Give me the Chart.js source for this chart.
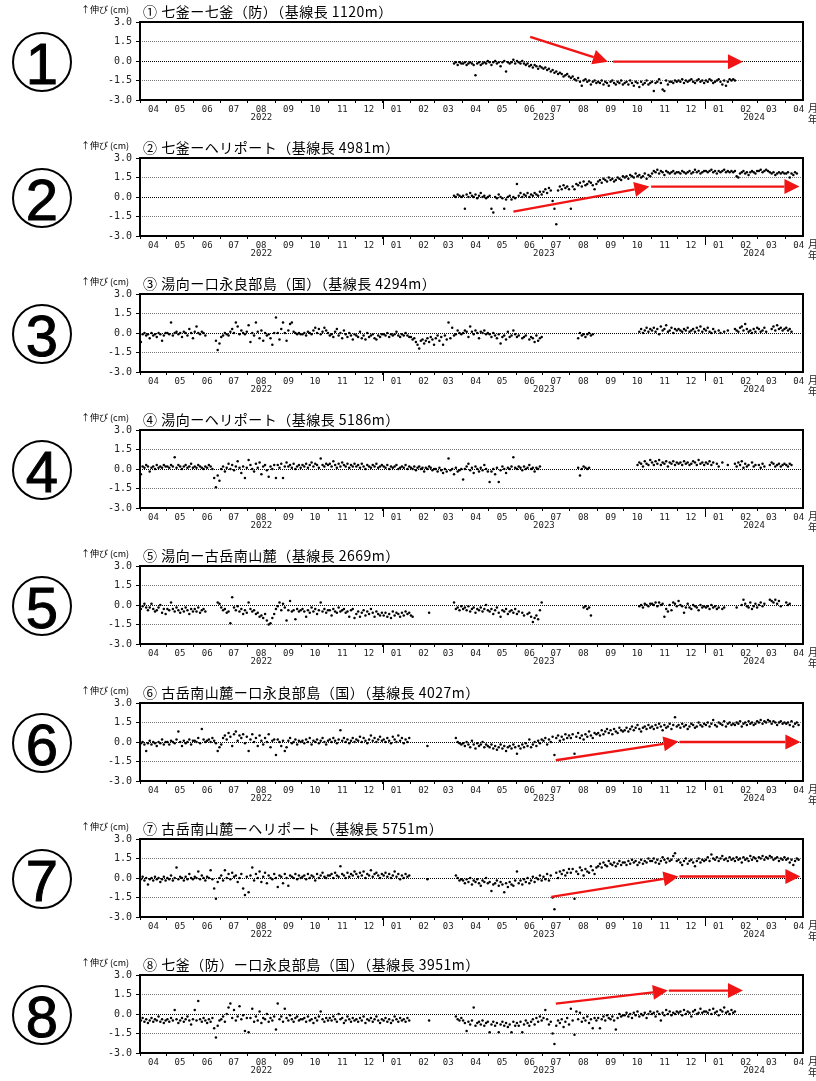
<!DOCTYPE html>
<html lang="ja">
<head>
<meta charset="utf-8">
<title>口永良部島 GNSS連続観測 基線長変化</title>
<script src="https://cdn.jsdelivr.net/npm/chart.js@4.4.1/dist/chart.umd.min.js"></script>
<style>
  html, body { margin: 0; padding: 0; background: #fff; }
  #page { position: relative; width: 816px; height: 1081px; overflow: hidden; }
  .panel { position: absolute; left: 0; width: 816px; height: 136px; }
  .panel canvas { position: absolute; left: 0; top: 0; }
  .mark {
    position: absolute; left: 12px; top: 32px; width: 56px; height: 56px;
    border: 2px solid #000; border-radius: 50%; text-align: center; color: #000;
    font: 58px/60px 'Liberation Sans', Arial, sans-serif; -webkit-text-stroke: 1px #000;
    z-index: 2;
  }
</style>
</head>
<body>
<div id="page"></div>
<script>
const _ = null;

// Axis range and tick labels
const axisStart = '2022-04-01';
const axisEnd = '2024-04-21';
const monthLabels = ['04','05','06','07','08','09','10','11','12','01','02','03',
                     '04','05','06','07','08','09','10','11','12','01','02','03','04'];
const yearNames = ['2022', '2023', '2024'];

// Panel headings
const panelMarks = ['1','2','3','4','5','6','7','8'];
const titles = [
  '① 七釜ー七釜（防）（基線長 1120m）',
  '② 七釜ーヘリポート（基線長 4981m）',
  '③ 湯向ー口永良部島（国）（基線長 4294m）',
  '④ 湯向ーヘリポート（基線長 5186m）',
  '⑤ 湯向ー古岳南山麓（基線長 2669m）',
  '⑥ 古岳南山麓ー口永良部島（国）（基線長 4027m）',
  '⑦ 古岳南山麓ーヘリポート（基線長 5751m）',
  '⑧ 七釜（防）ー口永良部島（国）（基線長 3951m）'
];

// Baseline changes (cm), one row per month from 2022-04 to 2024-04,
// readings roughly every second day; _ = no observation
const nanagamaNanagamaBo = [
  [],[],[],[],[],[],[],[],[],[],[],
  [_,_,_,_,_,_,_,_,_,_,-0.2,-0.1,-0.3,-0.1,-0.2],
  [-0.2,-0.1,-0.3,-0.2,-0.1,-0.2,-0.3,-1.1,-0.2,-0.1,-0.3,-0.2,-0.1,-0.2,0.0],
  [-0.1,-0.3,-0.1,0.0,-0.2,-0.1,-0.4,-0.1,0.0,-0.8,-0.1,-0.2,-0.1,0.1,-0.2],
  [0.0,-0.1,-0.2,0.0,-0.2,-0.3,-0.2,-0.4,-0.3,-0.5,-0.3,-0.4,-0.6,-0.4,-0.5],
  [-0.6,-0.5,-0.7,-0.6,-0.8,-0.7,-0.9,-0.8,-1.0,-0.9,-1.0,-1.2,-1.1,-1.0,-1.2],
  [-1.3,-1.2,-1.4,-1.5,-1.3,-1.6,-1.9,-1.5,-1.4,-1.6,-1.5,-1.8,-1.6,-1.5,-1.7],
  [-1.6,-1.7,-1.5,-1.8,-1.6,-1.7,-1.9,-1.6,-1.5,-1.7,-1.8,-1.6,-1.7,-1.5,-1.8],
  [-1.7,-1.6,-1.8,-1.5,-1.7,-1.9,-1.6,-1.7,-2.0,-1.6,-1.8,-1.7,-1.5,-1.8,-1.7],
  [-1.6,-2.3,-1.7,-1.6,-1.4,-1.7,-2.2,-2.3,-1.5,-1.8,-1.6,-1.6,-1.7,-1.5,-1.6],
  [-1.5,-1.6,-1.4,-1.7,-1.5,-1.6,-1.5,-1.4,-1.6,-1.7,-1.5,-1.4,-1.6,-1.5,-1.7],
  [-1.5,-1.6,-1.4,-1.5,-1.7,-1.6,-1.5,-1.4,-1.6,-1.8,-1.5,-1.9,-1.6,-1.4,-1.5],
  [-1.4,-1.5],
  [],[]
];

const nanagamaHeliport = [
  [],[],[],[],[],[],[],[],[],[],[],
  [_,_,_,_,_,_,_,_,_,_,0.1,0.0,0.2,0.1,0.0],
  [0.1,-0.9,0.2,0.0,0.3,0.1,0.0,0.2,-0.1,0.1,0.3,0.0,0.1,-0.1,0.0],
  [0.1,-0.9,-1.2,0.0,-0.1,0.2,0.0,-0.1,-0.9,-0.2,0.0,0.1,-0.2,0.0,-0.1],
  [1.0,0.1,0.3,0.0,0.2,0.1,0.3,0.0,0.2,0.1,0.3,0.2,0.1,0.4,0.2],
  [0.4,0.6,0.3,0.7,0.5,-0.3,-0.9,-2.1,0.5,0.8,0.6,0.9,0.7,0.8,0.6],
  [-0.9,0.8,0.6,1.0,0.9,1.1,0.8,1.2,0.9,1.0,1.2,1.1,0.9,0.6,1.0],
  [1.2,1.3,1.1,1.4,1.3,1.2,1.5,1.3,1.4,1.2,1.3,1.5,1.4,1.3,1.6],
  [1.5,1.6,1.4,1.7,1.6,1.5,1.8,1.6,1.7,1.5,1.6,1.8,1.4,1.7,1.6],
  [1.8,2.0,1.9,2.1,1.8,2.0,1.9,1.7,2.0,1.9,1.8,1.9,2.0,1.8,1.9],
  [1.9,1.8,2.0,1.9,1.8,1.9,2.0,1.8,1.9,2.1,1.9,2.0,1.8,1.9,2.0],
  [2.0,1.9,2.0,2.1,1.9,2.0,1.8,2.0,1.9,2.0,2.1,1.9,2.0,1.9,2.0],
  [1.9,2.0,1.6,1.5,1.8,1.9,2.0,1.8,1.9,1.7,1.9,2.0,1.9,1.8,2.0],
  [2.0,2.1,1.9,2.0,2.1,2.0,1.9,1.8,1.9,1.7,1.8,1.9,1.8,1.9,1.8],
  [1.8,1.9,1.5,1.8,1.7,1.9,1.8]
];

const yumukiKuchinoerabu = [
  [-0.7,-0.1,0.0,-0.2,-0.1,-0.4,0.0,-0.2,-0.1,-0.3,0.0,-0.1,-0.6,-0.2,0.0],
  [0.0,-0.1,0.8,-0.2,0.0,0.1,-0.1,0.0,-0.3,0.1,0.0,-0.2,0.3,0.0,-0.4],
  [0.1,0.5,0.0,-0.1,0.1,0.0,-0.2,_,_,_,_,_,-0.6,-1.3,-0.8],
  [-0.3,-0.2,0.0,-0.1,-0.2,0.1,0.3,0.0,0.8,0.5,-0.1,0.2,0.0,-0.1,0.1],
  [0.6,-0.7,0.0,-0.2,0.8,0.1,-0.4,0.2,-0.6,0.0,-0.2,-0.1,-0.4,-0.9,0.0],
  [1.2,0.0,-0.5,0.3,0.8,0.0,-0.6,0.2,0.7,0.8,0.1,0.0,-0.1,0.0,-0.1],
  [-0.1,0.0,-0.2,0.1,0.0,-0.1,0.2,0.4,0.0,0.3,-0.1,0.1,0.4,0.2,0.0],
  [-0.2,-0.1,-0.3,0.1,0.3,-0.2,0.0,-0.4,0.2,-0.1,-0.3,0.0,-0.2,-0.5,-0.1],
  [-0.2,-0.3,0.1,-0.4,-0.2,-0.5,0.0,-0.3,-0.2,-0.1,-0.4,-0.5,-0.2,-0.3,-0.1],
  [-0.1,-0.2,0.0,-0.3,-0.1,-0.2,-0.1,0.1,-0.2,-0.3,-0.1,-0.2,0.0,-0.2,-0.3],
  [-0.3,-0.5,-0.4,-0.7,-0.9,-1.2,-0.6,-0.5,-0.8,-0.6,-0.4,-0.7,-0.3,-0.5,-0.9],
  [-0.4,-0.2,-0.6,-0.3,-0.9,-0.2,-0.5,0.8,-0.4,0.4,-0.2,-0.1,0.2,0.0,-0.1],
  [0.0,0.2,0.1,-0.3,0.5,0.1,-0.1,0.2,0.0,-0.4,0.1,0.0,0.2,-0.1,0.0],
  [-0.1,-0.3,0.0,-0.2,-0.4,-0.1,-0.8,-0.3,-0.2,-0.5,0.1,-0.3,-0.2,0.2,-0.1],
  [-0.3,-0.2,_,-0.4,-0.3,-0.2,_,-0.5,-0.3,-0.4,-0.7,-0.2,-0.6,-0.4,-0.3],
  [],
  [_,_,_,_,-0.4,0.0,-0.2,-0.1,-0.3,-0.1,0.0,-0.2,-0.1],
  [],
  [_,_,_,_,_,_,_,_,0.1,0.3,0.0,0.2,0.4,0.1,0.3],
  [0.2,0.4,0.1,0.3,-0.1,0.5,0.2,0.3,0.6,0.1,0.2,0.4,0.0,0.3,0.2],
  [0.3,0.2,0.1,0.3,0.2,0.4,0.1,0.2,0.3,0.1,0.4,0.2,0.5,0.1,0.3],
  [0.2,0.4,0.1,0.0,0.3,0.1,_,0.2,0.0,_,0.1,_,0.2,_,_],
  [_,0.3,0.2,0.1,0.4,0.5,0.2,0.7,0.3,0.1,0.2,0.0,0.3,0.1,0.4],
  [0.3,0.1,0.2,0.4,0.1,_,_,0.3,0.5,0.2,0.6,0.3,0.4,0.2,0.3],
  [0.4,0.2,0.3,0.1]
];

const yumukiHeliport = [
  [-0.4,0.2,0.1,0.3,0.2,-0.2,0.1,0.2,0.0,0.3,0.1,0.2,0.1,0.3,0.2],
  [0.2,0.1,0.3,0.2,0.9,0.1,0.3,0.2,0.0,0.2,0.3,0.1,0.2,0.4,0.1],
  [0.2,0.1,0.3,0.2,0.1,0.0,0.2,0.1,0.3,0.2,0.0,-0.7,-1.4,-0.5,-0.9],
  [0.0,0.2,-0.2,0.1,0.4,0.0,0.3,-0.1,0.2,0.6,0.1,-0.3,0.2,-0.7,0.1],
  [0.7,0.3,0.0,-0.2,0.4,0.1,0.5,-0.4,0.2,0.3,-0.1,-0.6,0.2,0.0,0.3],
  [-0.7,0.3,0.1,0.4,-0.7,0.2,0.5,0.2,0.3,0.1,0.4,0.0,0.2,0.3,0.1],
  [0.3,0.2,0.4,0.1,0.3,0.5,0.2,0.4,0.3,0.1,0.8,0.3,0.2,0.4,0.3],
  [0.4,0.2,0.6,0.3,0.1,0.4,0.2,0.5,0.3,0.2,0.4,0.1,0.3,0.2,0.4],
  [0.2,0.3,0.1,0.4,0.2,0.0,0.3,0.2,0.1,0.3,0.2,0.4,0.1,0.2,0.3],
  [0.2,0.1,0.3,0.0,0.2,0.1,0.2,0.3,0.0,0.1,0.2,0.1,0.3,0.0,0.2],
  [0.1,0.0,0.2,-0.1,0.1,0.2,0.0,0.1,-0.2,0.1,0.0,0.2,0.1,-0.1,0.0],
  [0.0,-0.2,0.1,-0.1,-0.3,0.0,-0.2,0.8,-0.1,0.0,-0.4,0.1,-0.2,-0.1,0.0],
  [-0.8,0.0,0.2,0.4,-0.1,0.1,-0.3,0.2,0.0,-0.2,0.1,-0.1,0.3,0.0,-0.2],
  [-1.0,-0.2,0.0,-0.4,0.1,-1.0,-0.1,0.2,0.0,-0.3,0.1,0.0,0.2,0.9,0.1],
  [0.0,0.2,0.1,-0.1,0.2,0.0,0.1,0.3,0.0,0.1,-0.2,0.1,0.0,0.2,_],
  [],
  [_,_,_,_,0.1,-0.5,0.0,0.2,0.1,0.0,0.1],
  [],
  [_,_,_,_,_,_,_,0.3,0.5,0.4,0.2,0.6,0.4,0.3,0.7],
  [0.5,0.3,0.6,0.4,0.7,0.3,0.5,0.4,0.6,0.2,0.5,0.4,0.6,0.3,0.5],
  [0.4,0.5,0.3,0.6,0.4,0.5,0.3,0.4,0.6,0.5,0.3,0.7,0.4,0.5,0.3],
  [0.5,0.4,0.6,0.3,0.5,_,0.4,0.2,_,0.5,_,_,0.3,_,_],
  [_,0.4,0.2,0.5,0.3,0.6,0.1,0.4,0.2,0.3,_,0.5,0.2,0.3,_],
  [0.3,0.1,0.4,0.2,_,_,0.3,0.5,0.4,0.2,0.3,0.4,0.2,0.3,0.4],
  [0.3,0.2,0.4,0.3]
];

const yumukiFurudake = [
  [-0.3,-0.1,0.1,-0.2,-0.4,-0.2,0.1,-0.3,-0.5,-0.4,-0.2,0.0,-0.6,-0.3,-0.7],
  [-0.3,-0.4,0.2,-0.3,-0.5,-0.2,-0.4,-0.6,-0.3,-0.5,-0.2,-0.4,-0.7,-0.3,-0.5],
  [-0.3,-0.5,-0.2,-0.6,-0.4,-0.3,-0.5,_,_,_,_,_,_,0.2,0.1],
  [-0.2,-0.4,-0.3,-0.6,-0.5,-1.4,0.6,-0.2,-0.4,-0.1,-0.5,-0.3,-0.7,-0.4,-0.6],
  [0.2,-0.3,-0.5,-0.4,-0.7,-0.6,-0.9,-0.8,-1.0,-0.7,-1.2,-1.5,-1.4,-1.0,-0.7],
  [-0.3,-0.1,0.2,-0.4,0.1,-0.2,-1.2,-0.4,0.3,-0.5,-0.4,-1.1,-0.3,-0.5,-0.4],
  [-0.3,-0.5,-0.9,-0.4,-0.6,-0.2,-0.5,-0.3,-0.7,-0.4,0.2,-0.5,-0.3,-0.6,-0.4],
  [-0.4,-0.8,-0.3,-0.5,-0.6,-0.2,-0.5,-0.4,-0.3,-0.6,-0.5,-0.9,-0.4,-0.3,-1.0],
  [-0.7,-0.5,-0.9,-0.6,-0.4,-0.8,-0.5,-0.7,-0.3,-0.6,-0.9,-0.5,-0.7,-0.8,-0.6],
  [-0.8,-0.6,-0.9,-0.7,-1.0,-0.5,-0.8,-0.6,-0.7,-0.9,-0.6,-0.8,-0.5,-0.7,-0.6],
  [-0.8,-0.9,_,_,_,_,_,_,_,_,_,-0.6],
  [_,_,_,_,_,_,_,_,_,_,0.2,-0.3,-0.2,-0.4,-0.1],
  [-0.3,-0.2,-0.4,-0.1,-0.5,-0.3,-0.2,-0.6,-0.3,-0.4,-0.2,-0.5,-0.3,0.0,-0.4],
  [-0.5,-0.3,-0.7,-0.4,-0.2,-0.6,-0.9,-0.4,-0.5,-0.3,-0.7,-0.5,-0.4,-0.6,-0.3],
  [-0.7,-0.5,_,-0.6,-0.8,_,-0.7,-0.6,-0.9,-1.3,-1.0,-0.8,-1.1,-0.4,0.2],
  [],
  [_,_,_,_,_,_,_,-0.2,-0.1,-0.3,-0.2,-0.8],
  [],
  [_,_,_,_,_,_,_,_,-0.1,0.0,-0.2,0.1,0.0,-0.1,0.1],
  [0.1,0.0,0.2,-0.1,0.2,0.0,0.1,-0.9,-0.3,-0.5,0.0,-0.4,0.2,0.1,-0.1],
  [0.3,0.0,-0.1,-0.6,-0.2,0.1,-0.2,-0.3,0.0,-0.1,-0.2,-0.4,0.0,-0.2,-0.1],
  [-0.2,-0.1,-0.3,0.0,-0.2,-0.1,-0.3,-0.2,_,-0.3,-0.2],
  [_,_,-0.2,_,_,0.0,0.4,0.1,-0.1,-0.2,0.2,-0.3,-0.1,0.1,-0.2],
  [0.0,0.2,-0.1,0.1,_,_,0.4,0.3,0.2,0.4,0.1,0.3,-0.1],
  [0.2,0.0,0.1]
];

const furudakeKuchinoerabu = [
  [-0.1,0.0,-0.2,-0.7,-0.1,0.1,-0.2,0.0,-0.1,-0.3,0.0,-0.1,0.2,-0.2,0.0],
  [0.0,-0.2,0.1,0.0,-0.1,0.2,0.8,0.0,-0.3,0.1,-0.1,0.0,0.2,-0.2,0.1],
  [0.1,0.0,0.3,-0.1,1.0,0.2,0.0,0.1,0.2,0.0,0.3,0.1,-0.1,-0.7,-0.4],
  [-0.2,0.3,0.5,0.2,0.7,0.4,-0.3,0.6,0.8,0.1,0.5,0.3,0.6,-0.1,0.4],
  [-0.7,0.2,0.6,0.0,0.3,-0.3,0.5,0.1,-0.2,0.3,0.0,0.6,-0.4,0.1,0.2],
  [-1.0,0.2,0.0,-0.3,0.1,-0.7,-0.4,0.1,0.3,-0.1,0.0,0.2,-0.2,0.1,0.0],
  [0.1,-0.1,0.2,0.0,0.3,-0.2,0.1,0.0,0.2,-0.1,0.1,0.3,0.0,-0.2,0.1],
  [0.2,0.0,0.3,0.1,-0.1,0.2,0.9,0.1,0.3,0.0,0.2,-0.1,0.1,0.3,0.0],
  [0.2,0.1,0.4,0.0,0.3,0.1,-0.1,0.2,0.5,0.1,0.3,0.0,0.2,0.4,0.1],
  [0.2,0.0,0.3,0.1,-0.1,0.4,0.2,0.0,0.5,0.1,0.3,-0.1,0.2,0.0,0.3],
  [_,_,_,_,_,_,_,_,_,_,-0.3],
  [_,_,_,_,_,_,_,_,_,_,_,0.3,0.0,-0.1,-0.2],
  [-0.1,-0.3,0.0,-0.2,-0.4,0.1,-0.2,-0.5,-0.1,-0.3,-0.2,0.0,-0.4,-0.2,-0.3],
  [-0.4,-0.2,-0.5,-0.3,-0.6,-0.4,-0.2,-0.5,-0.3,-0.7,-0.4,-0.3,-0.5,-0.2,-0.4],
  [-0.9,-0.3,-0.5,-0.2,-0.4,-0.1,-0.3,0.2,-0.4,-0.2,0.0,-0.3,0.1,-0.1,0.2],
  [0.1,0.3,-0.2,0.2,0.0,0.4,-1.0,0.3,0.5,0.1,0.4,0.2,0.6,0.3,0.5],
  [0.3,0.6,-0.9,0.4,0.7,0.3,0.5,0.2,0.6,0.4,0.8,0.5,0.3,0.7,0.6],
  [0.7,0.5,0.9,0.6,0.8,1.0,0.7,0.9,0.6,1.0,0.8,0.7,1.1,0.9,0.8],
  [0.9,1.1,0.8,1.0,1.2,0.9,1.1,1.3,1.0,0.8,1.1,1.2,1.0,1.3,1.1],
  [1.2,1.0,1.3,1.1,1.4,1.2,0.9,1.3,1.1,1.2,1.4,1.0,1.3,1.9,1.2],
  [1.3,1.1,1.4,1.2,1.3,1.0,1.2,1.4,1.3,1.1,1.2,1.5,1.3,1.2,1.4],
  [1.3,1.5,1.2,1.4,1.7,1.3,1.2,1.5,1.4,1.3,1.6,1.2,1.4,1.5,1.3],
  [1.4,1.3,1.5,1.4,1.6,1.2,1.4,1.5,1.3,1.6,1.4,1.5,1.3,1.4,1.6],
  [1.5,1.7,1.4,1.6,1.5,1.7,1.6,1.4,1.6,1.5,1.3,1.5,1.6,1.4,1.5],
  [1.4,1.5,1.3,1.6,1.2,1.4,1.5,1.3]
];

const furudakeHeliport = [
  [-0.1,0.1,-0.2,0.0,-0.5,-0.1,0.0,-0.2,0.1,-0.1,0.0,-0.3,-0.1,0.1,-0.2],
  [0.0,-0.1,0.2,-0.2,0.0,0.8,-0.1,0.1,0.0,-0.2,0.1,-0.1,0.3,0.0,-0.1],
  [0.1,0.0,0.5,-0.1,0.2,0.0,-0.2,0.1,0.0,0.6,-0.1,-0.8,-1.6,-0.3,0.0],
  [0.2,-0.2,0.6,0.0,0.3,-0.1,0.4,0.1,0.2,-0.3,0.0,0.3,-0.8,-1.3,0.1],
  [-1.1,0.2,0.8,-0.2,0.3,0.0,0.5,-0.3,0.1,0.4,-0.4,0.2,0.0,-0.1,0.3],
  [0.0,-0.7,0.2,0.1,-0.4,0.3,0.0,-0.6,0.2,0.1,0.0,0.3,-0.1,0.2,0.0],
  [0.1,0.2,-0.1,0.3,0.0,0.2,0.1,-0.2,0.3,0.0,0.2,0.4,0.1,0.0,0.2],
  [0.2,0.3,0.0,0.4,0.2,0.1,0.9,0.3,0.2,0.0,0.4,0.1,0.3,0.2,0.5],
  [0.3,0.1,0.4,0.2,0.5,0.0,0.3,0.2,0.6,0.1,0.3,0.4,0.2,0.0,0.3],
  [0.2,0.4,0.1,0.3,0.0,0.2,0.5,0.1,0.3,-0.1,0.2,0.0,0.3,0.1,0.2],
  [_,_,_,_,_,_,_,_,_,_,-0.1],
  [_,_,_,_,_,_,_,_,_,_,_,0.2,0.0,-0.2,-0.1],
  [-0.2,-0.4,-0.1,-0.3,0.0,-0.5,-0.2,-0.3,-0.1,-0.4,-0.6,-0.2,-0.3,0.0,-0.4],
  [-0.3,-1.0,-0.5,-0.4,-0.2,-0.6,-0.3,-0.5,-1.1,-0.4,-0.7,-0.3,-0.5,-0.6,-0.2],
  [0.5,-0.4,-0.2,-0.5,-0.1,-0.3,0.0,-0.4,-0.2,0.1,-0.3,0.0,-0.1,0.2,-0.2],
  [0.1,-0.1,0.3,-0.2,0.2,-1.5,-2.4,0.4,0.0,0.5,0.3,0.6,0.2,0.4,0.7],
  [0.4,0.7,-1.6,0.5,0.3,0.8,0.6,0.2,0.7,0.5,0.4,0.9,0.6,0.3,0.8],
  [0.9,1.1,0.8,1.2,1.0,0.9,1.3,1.1,1.0,1.2,0.9,1.1,1.3,1.0,1.2],
  [1.2,1.0,1.3,1.1,1.4,1.2,1.3,1.0,1.2,1.4,1.1,1.3,1.2,1.5,1.3],
  [1.3,1.5,1.2,1.4,1.1,1.3,1.6,1.4,1.2,1.5,1.3,1.4,1.7,1.9,1.3],
  [1.4,1.2,1.0,1.3,1.5,1.1,1.3,1.4,1.2,0.9,1.3,1.5,1.2,1.4,1.3],
  [1.4,1.6,1.3,1.8,1.5,1.4,1.6,1.3,1.5,1.7,1.4,1.5,1.3,1.6,1.4],
  [1.5,1.3,1.6,1.4,1.5,1.2,1.6,1.4,1.5,1.3,1.7,1.4,1.6,1.5,1.3],
  [1.6,1.5,1.7,1.4,1.6,1.5,1.7,1.6,1.4,1.5,1.6,1.3,1.5,1.4,1.6],
  [1.4,1.5,1.2,1.4,1.0,1.3,1.5,1.4]
];

const nanagamaBoKuchinoerabu = [
  [-0.5,-0.3,-0.6,-0.4,-0.7,-0.5,-0.3,-0.6,-0.4,-0.5,-0.2,-0.6,-0.4,-0.7,-0.5],
  [-0.4,-0.6,-0.3,-0.5,0.3,-0.4,-0.7,-0.5,-0.3,-0.6,-0.4,-0.2,-0.5,-0.8,-0.4],
  [0.3,-0.5,1.0,-0.4,-0.6,-0.3,-0.5,-0.7,-0.4,-0.6,-0.3,-1.1,-1.8,-0.9,-0.5],
  [-0.4,-0.2,-0.6,0.0,0.5,0.8,-0.3,0.3,-0.5,-0.2,0.6,-0.4,-0.1,-1.3,-0.3],
  [-1.4,-0.3,0.4,-0.6,-0.2,-0.5,0.2,-0.7,-0.3,-0.4,0.0,-0.6,-0.3,-0.5,-0.2],
  [-1.2,0.8,-0.4,-0.2,-0.6,0.4,-0.3,-0.5,-0.1,-0.4,-0.6,-0.3,-0.2,-0.5,-0.4],
  [-0.4,-0.3,-0.6,-0.2,-0.5,-0.4,-0.7,-0.3,-0.5,-0.2,0.2,-0.4,-0.6,-0.3,-0.5],
  [-0.3,-0.5,-0.2,-0.4,-0.6,0.0,-0.4,-0.3,-0.7,-0.5,-0.2,-0.4,-0.6,-0.3,-0.5],
  [-0.4,-0.6,-0.3,-0.5,-0.2,-0.7,-0.4,-0.5,-0.3,-0.6,-0.4,-0.2,-0.5,-0.7,-0.4],
  [-0.5,-0.3,-0.6,-0.4,-0.7,-0.5,-0.2,-0.4,-0.6,-0.3,-0.5,-0.4,-0.6,-0.3,-0.5],
  [_,_,_,_,_,_,_,_,_,_,_,-0.5],
  [_,_,_,_,_,_,_,_,_,_,_,-0.2,-0.4,-0.5,-0.3],
  [-0.5,-0.7,-1.3,-0.6,-0.8,-0.5,0.5,-0.9,-0.7,-0.6,-0.8,-0.5,-0.9,-0.7,-0.6],
  [-1.4,-0.8,-0.6,-0.9,-0.7,-1.4,-0.8,-0.6,-0.9,-0.7,-1.0,-0.8,-1.4,-0.6,-0.9],
  [-0.7,-0.9,-0.6,-1.4,-0.8,-0.5,-0.7,-0.9,-0.6,-0.4,-0.8,-0.3,-0.6,-0.2,-0.5],
  [-0.3,0.3,-0.4,-0.8,-0.6,-1.5,-2.3,-0.9,-0.5,-0.7,-0.4,-1.0,-0.6,-0.3,-0.8],
  [0.4,-0.5,-1.6,0.2,-0.4,0.1,-0.6,-0.3,-0.5,-0.2,-0.7,-0.4,-1.1,-0.3,-0.5],
  [-0.3,-1.1,-0.4,-0.2,-0.5,-0.1,-0.3,-0.4,-0.2,-0.5,-1.2,-0.3,0.0,-0.2,-0.1],
  [-0.1,0.1,-0.2,0.0,-0.3,0.1,-0.1,0.2,-0.2,0.0,-0.1,0.1,-0.3,0.0,0.2],
  [0.0,0.1,-0.2,0.2,0.0,-0.5,0.1,-0.1,0.3,0.0,0.2,-0.1,0.1,0.0,0.2],
  [0.1,0.2,-0.1,0.3,0.0,0.2,0.1,-0.2,0.2,0.3,0.0,0.1,0.4,0.1,0.2],
  [0.2,0.1,0.3,0.0,0.4,0.1,0.2,-0.1,0.3,0.2,0.5,0.1,0.2,0.0,0.3],
  [0.1,0.2],
  [],[]
];

const series = [nanagamaNanagamaBo, nanagamaHeliport, yumukiKuchinoerabu, yumukiHeliport,
                yumukiFurudake, furudakeKuchinoerabu, furudakeHeliport, nanagamaBoKuchinoerabu];

// Trend arrows: [from date, from cm, to date, to cm]
const arrows = [
  [['2023-06-17', 1.85, '2023-09-13', -0.05], ['2023-09-19', -0.05, '2024-02-13', -0.05]],
  [['2023-05-29', -1.13, '2023-10-30', 0.8], ['2023-11-01', 0.8, '2024-04-17', 0.8]],
  [], [], [],
  [['2023-07-16', -1.4, '2023-12-02', 0.03], ['2023-12-03', 0.0, '2024-04-18', 0.0]],
  [['2023-07-11', -1.45, '2023-12-02', 0.12], ['2023-12-03', 0.12, '2024-04-18', 0.12]],
  [['2023-07-16', 0.8, '2023-11-20', 1.8], ['2023-11-21', 1.8, '2024-02-13', 1.8]]
];

// ---------------------------------------------------------------------------
const DAY = 864e5;
const t0 = Date.parse(axisStart + 'T00:00:00Z');
const dayOf = s => (Date.parse(s + 'T00:00:00Z') - t0) / DAY;
const SLOTS = 15;
const monthStart = [], monthLen = [];
for (let m = 0; m < monthLabels.length; m++) {
  const a = Date.UTC(2022, 3 + m, 1), b = Date.UTC(2022, 4 + m, 1);
  monthStart.push((a - t0) / DAY);
  monthLen.push((b - a) / DAY);
}

function toPoints(rows) {
  const pts = [];
  rows.forEach((row, m) => row.forEach((v, j) => {
    if (v !== null) pts.push({ x: monthStart[m] + (j + 0.5) * monthLen[m] / SLOTS, y: v });
  }));
  return pts;
}

const ARROW_RED = '#f01414';
const MONO = "'DejaVu Sans Mono', 'Liberation Mono', monospace";
const CJK = "'Noto Sans CJK JP', 'Noto Sans', sans-serif";

const panelDecor = {
  id: 'panelDecor',
  afterDatasetsDraw(chart, args, opts) {
    const { ctx, scales: { x, y } } = chart;
    ctx.save();
    ctx.strokeStyle = ARROW_RED;
    ctx.fillStyle = ARROW_RED;
    ctx.lineWidth = 2.4;
    for (const [d0, v0, d1, v1] of opts.arrows) {
      const x0 = x.getPixelForValue(dayOf(d0)), y0 = y.getPixelForValue(v0);
      const x1 = x.getPixelForValue(dayOf(d1)), y1 = y.getPixelForValue(v1);
      const ang = Math.atan2(y1 - y0, x1 - x0);
      const L = 15, W = 7.5;
      const bx = x1 - L * Math.cos(ang), by = y1 - L * Math.sin(ang);
      ctx.beginPath(); ctx.moveTo(x0, y0); ctx.lineTo(bx, by); ctx.stroke();
      ctx.beginPath();
      ctx.moveTo(x1, y1);
      ctx.lineTo(bx - W * Math.sin(ang), by + W * Math.cos(ang));
      ctx.lineTo(bx + W * Math.sin(ang), by - W * Math.cos(ang));
      ctx.closePath(); ctx.fill();
    }
    ctx.restore();
  },
  afterDraw(chart, args, opts) {
    const { ctx, chartArea: a, scales: { x } } = chart;
    ctx.save();
    // plot frame
    ctx.strokeStyle = '#000';
    ctx.lineWidth = 2;
    ctx.strokeRect(a.left, a.top, a.right - a.left, a.bottom - a.top);
    // longer tick at each new year
    ctx.lineWidth = 1;
    x.ticks.forEach((t, i) => {
      if (monthLabels[i] === '01') {
        const px = Math.round(x.getPixelForValue(t.value)) + 0.5;
        ctx.beginPath(); ctx.moveTo(px, a.bottom); ctx.lineTo(px, a.bottom + 9); ctx.stroke();
      }
    });
    // year names centred on the shown part of each year
    ctx.fillStyle = '#222';
    ctx.font = '9px ' + MONO;
    ctx.textAlign = 'center';
    ctx.textBaseline = 'middle';
    const endDay = dayOf(axisEnd);
    yearNames.forEach(yn => {
      const s = Math.max(0, dayOf(yn + '-01-01'));
      const e = Math.min(endDay, dayOf((+yn + 1) + '-01-01'));
      ctx.fillText(yn, x.getPixelForValue((s + e) / 2), a.bottom + 18);
    });
    // unit markers at the right end of the time axis
    ctx.font = '10px ' + CJK;
    ctx.textAlign = 'left';
    ctx.fillText('月', a.right + 5, a.bottom + 8);
    ctx.fillText('年', a.right + 5, a.bottom + 19);
    // vertical unit and panel title
    ctx.fillStyle = '#000';
    ctx.font = '9px ' + CJK;
    ctx.fillText('↑伸び (cm)', 81, a.top - 12);
    ctx.font = '14px ' + CJK;
    ctx.letterSpacing = '0.5px';
    ctx.fillText(opts.title, a.left + 3, a.top - 10);
    ctx.restore();
  }
};

const plotTops = [22, 158, 294, 430, 566, 703, 839, 975];
const page = document.getElementById('page');

series.forEach((rows, k) => {
  const panel = document.createElement('div');
  panel.className = 'panel';
  panel.style.top = (plotTops[k] - 22) + 'px';
  const canvas = document.createElement('canvas');
  canvas.width = 816; canvas.height = 136;
  panel.appendChild(canvas);
  const mark = document.createElement('div');
  mark.className = 'mark';
  mark.textContent = panelMarks[k];
  panel.appendChild(mark);
  page.appendChild(panel);

  new Chart(canvas, {
    type: 'scatter',
    data: {
      datasets: [{
        data: toPoints(rows),
        showLine: false,
        pointRadius: 1.25,
        pointHoverRadius: 1.25,
        pointBorderWidth: 0,
        pointBackgroundColor: '#000',
        pointBorderColor: '#000'
      }]
    },
    options: {
      responsive: false,
      animation: false,
      devicePixelRatio: 1,
      layout: { padding: { left: 100, right: 13, top: 22, bottom: 0 } },
      plugins: {
        legend: { display: false },
        tooltip: { enabled: false },
        panelDecor: { title: titles[k], arrows: arrows[k] }
      },
      scales: {
        x: {
          type: 'linear',
          min: 0,
          max: dayOf(axisEnd),
          afterFit(s) { s.height = 36; },
          afterBuildTicks(s) { s.ticks = monthStart.map(v => ({ value: v })); },
          grid: { drawOnChartArea: false, drawTicks: true, tickLength: 3, color: '#000', tickColor: '#000' },
          border: { display: false },
          ticks: {
            autoSkip: false, maxRotation: 0, minRotation: 0,
            labelOffset: 13.4, padding: 1,
            color: '#222', font: { family: MONO, size: 9 },
            callback: (v, i) => monthLabels[i]
          }
        },
        y: {
          min: -3, max: 3,
          afterFit(s) { s.width = 40; },
          grid: {
            color: c => (c.tick && c.tick.value === 0) ? '#000' : '#777',
            lineWidth: 1, drawTicks: true, tickLength: 4, tickColor: '#000'
          },
          border: { display: false, dash: [1, 1] },
          ticks: {
            stepSize: 1.5, padding: 4,
            color: '#222', font: { family: MONO, size: 10 },
            callback: v => (Math.abs(v) < 1e-9 ? 0 : v).toFixed(1)
          }
        }
      }
    },
    plugins: [panelDecor]
  });
});
</script>
</body>
</html>
